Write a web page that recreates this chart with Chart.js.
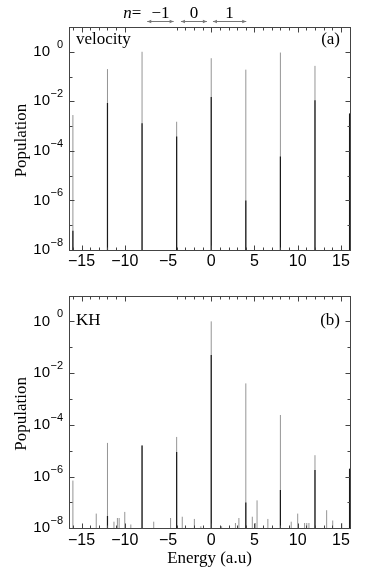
<!DOCTYPE html>
<html><head><meta charset="utf-8">
<script src="https://cdn.jsdelivr.net/npm/chart.js@4.4.1/dist/chart.umd.min.js"></script>
<style>
html,body{margin:0;padding:0;background:#fff;}
#wrap{position:relative;width:374px;height:581px;overflow:hidden;}
.box{position:absolute;left:0;}
</style></head><body>
<div id="wrap">
<div class="box" style="top:0;width:374px;height:280px"><canvas id="c1" width="374" height="280"></canvas></div>
<div class="box" style="top:280px;width:374px;height:301px"><canvas id="c2" width="374" height="301"></canvas></div>
</div>
<script>
// ---------- data ----------
const xTickValues = [-15, -10, -5, 0, 5, 10, 15];
const xTickLabels = ['\u221215', '\u221210', '\u22125', '0', '5', '10', '15'];
const yLabelExponents = [0, -2, -4, -6, -8];

const velocityEnergy = [-16, -12, -8, -4, 0, 4, 8, 12, 16];
const velocityPeak   = [2.8e-3, 0.2, 1.0, 1.5e-3, 0.55, 0.19, 0.93, 0.27, 3.2e-3];
const velocityCore   = [6e-8, 8.5e-3, 1.3e-3, 3.8e-4, 1.5e-2, 1e-6, 5.9e-5, 1.1e-2, 3.2e-3];

const khEnergy = [-16, -12, -8, -4, 0, 4, 8, 12, 16];
const khPeak   = [7e-7, 2e-5, 1.6e-5, 3.4e-5, 1.0, 4e-3, 2.4e-4, 6.7e-6, 2e-6];
const khCore   = [null, 3e-8, 1.6e-5, 9e-6, 0.05, 1e-7, 3e-7, 1.8e-6, 2e-6];

const khSmallEnergy = [-13.3, -11.25, -10.85, -10.65, -10.0, -9.3, -6.65, -4.7, -3.35, -1.95, -1.2, 1.2, 2.8, 3.2, 4.75, 5.1, 5.3, 6.55, 9.25, 10.0, 10.8, 11.05, 11.3, 13.35, 14.05, 15.1];
const khSmallValue  = [3.7e-8, 1.8e-8, 2.5e-8, 2.5e-8, 4.3e-8, 1.4e-8, 1.8e-8, 2.5e-8, 2.8e-8, 2.3e-8, 1.2e-8, 1.2e-8, 1.6e-8, 2.5e-8, 2.8e-8, 1.6e-8, 1.2e-7, 2.3e-8, 1.8e-8, 3.7e-8, 1.6e-8, 1.6e-8, 1.6e-8, 5e-8, 2e-8, 1.6e-8];

const nLabels    = ['\u22121', '0', '1'];
const nArrowFrom = [-7.4, -3.5, 0.2];
const nArrowTo   = [-4.35, -0.5, 4.05];

const X_MIN = -16.45, X_MAX = 16.05, Y_MIN = 1e-8, Y_MAX = 10;

// ---------- helpers ----------
function spikes(E, V) {
  const d = [];
  E.forEach((e, i) => {
    if (V[i] == null) return;
    d.push({x: e, y: Y_MIN}, {x: e, y: V[i]}, {x: e, y: null});
  });
  return d;
}

const SANS = '"Liberation Sans", Arial, sans-serif';
const SERIF = '"Liberation Serif", "Times New Roman", serif';

function arrowHead(ctx, x, y, dir) {
  ctx.beginPath();
  ctx.moveTo(x, y);
  ctx.lineTo(x - dir * 4, y - 1.8);
  ctx.lineTo(x - dir * 4, y + 1.8);
  ctx.closePath();
  ctx.fill();
}

const deco = {
  id: 'deco',
  afterDraw(chart, args, o) {
    const ctx = chart.ctx, a = chart.chartArea, xs = chart.scales.x, ys = chart.scales.y;
    ctx.save();
    const L = Math.round(a.left) + 0.5, R = Math.round(a.right) + 0.5;
    const T = Math.round(a.top) + 0.5, B = Math.round(a.bottom) + 0.5;
    ctx.strokeStyle = '#444';
    ctx.lineWidth = 1;
    ctx.strokeRect(L, T, R - L, B - T);
    ctx.beginPath();
    for (let v = -16; v <= 16; v++) {
      if (v >= -9 && v <= -5) continue;
      const px = Math.round(xs.getPixelForValue(v)) + 0.5;
      if (px <= L || px >= R) continue;
      const len = v % 5 === 0 ? 5 : 3;
      ctx.moveTo(px, B); ctx.lineTo(px, B - len);
      ctx.moveTo(px, T); ctx.lineTo(px, T + len);
    }
    for (let e = -7; e <= 0; e++) {
      const py = Math.round(ys.getPixelForValue(Math.pow(10, e))) + 0.5;
      const len = e % 2 === 0 ? 5 : 3;
      ctx.moveTo(L, py); ctx.lineTo(L + len, py);
      ctx.moveTo(R, py); ctx.lineTo(R - len, py);
    }
    ctx.stroke();

    ctx.fillStyle = '#000';
    // y labels
    yLabelExponents.forEach(e => {
      const py = ys.getPixelForValue(Math.pow(10, e));
      ctx.font = '15px ' + SANS;
      ctx.textAlign = 'right'; ctx.textBaseline = 'middle';
      ctx.fillText('10', a.left - 19, py);
      ctx.font = '11px ' + SANS;
      ctx.fillText(e === 0 ? '0' : '\u2212' + (-e), a.left - 6, py - 7);
    });
    // x labels
    ctx.font = '16px ' + SANS;
    ctx.textAlign = 'center'; ctx.textBaseline = 'middle';
    xTickValues.forEach((v, i) => {
      ctx.fillText(xTickLabels[i], xs.getPixelForValue(v), a.bottom + 12);
    });
    // panel texts
    ctx.font = '17px ' + SERIF;
    ctx.textBaseline = 'alphabetic';
    ctx.textAlign = 'left';
    ctx.fillText(o.name, a.left + 7, a.top + o.nameDy);
    ctx.textAlign = 'right';
    ctx.fillText(o.tag, a.right - 10, a.top + o.nameDy);
    // y title
    ctx.save();
    ctx.translate(22, (a.top + a.bottom) / 2 + 2);
    ctx.rotate(-Math.PI / 2);
    ctx.textAlign = 'center'; ctx.textBaseline = 'middle';
    ctx.fillText('Population', 0, 0);
    ctx.restore();
    if (o.xTitle) {
      ctx.textAlign = 'center'; ctx.textBaseline = 'middle';
      ctx.fillText(o.xTitle, (a.left + a.right) / 2, a.bottom + 30);
    }
    if (o.nAnnot) {
      const yA = 21;
      ctx.textBaseline = 'alphabetic';
      ctx.textAlign = 'right';
      ctx.font = '17px ' + SERIF;
      const x0 = xs.getPixelForValue(nArrowFrom[0]) - 6;
      ctx.fillText('=', x0, 18);
      const wEq = ctx.measureText('=').width;
      ctx.font = 'italic 17px ' + SERIF;
      ctx.fillText('n', x0 - wEq, 18);
      ctx.font = '17px ' + SERIF;
      ctx.textAlign = 'center';
      ctx.strokeStyle = '#777'; ctx.fillStyle = '#777';
      nLabels.forEach((lab, i) => {
        const p1 = xs.getPixelForValue(nArrowFrom[i]), p2 = xs.getPixelForValue(nArrowTo[i]);
        ctx.beginPath(); ctx.moveTo(p1, yA + 0.5); ctx.lineTo(p2, yA + 0.5); ctx.stroke();
        arrowHead(ctx, p1, yA + 0.5, -1);
        arrowHead(ctx, p2, yA + 0.5, 1);
        ctx.fillStyle = '#000';
        ctx.fillText(lab, (p1 + p2) / 2, 18);
        ctx.fillStyle = '#777';
      });
    }
    ctx.restore();
  }
};

function makeChart(id, pad, greyData, blackData, decoOpts) {
  return new Chart(document.getElementById(id), {
    type: 'line',
    data: {
      datasets: [
        {data: blackData, borderColor: '#1a1a1a', borderWidth: 1.2, pointRadius: 0, spanGaps: false, tension: 0},
        {data: greyData, borderColor: '#959595', borderWidth: 1, pointRadius: 0, spanGaps: false, tension: 0}
      ]
    },
    options: {
      responsive: false, animation: false, devicePixelRatio: 1,
      layout: {padding: pad},
      plugins: {legend: {display: false}, tooltip: {enabled: false}, deco: decoOpts},
      scales: {
        x: {type: 'linear', min: X_MIN, max: X_MAX, display: false},
        y: {type: 'logarithmic', min: Y_MIN, max: Y_MAX, display: false}
      }
    },
    plugins: [deco]
  });
}

makeChart('c1', {left: 69, right: 24, top: 27, bottom: 30},
  spikes(velocityEnergy, velocityPeak),
  spikes(velocityEnergy, velocityCore),
  {name: 'velocity', tag: '(a)', nameDy: 17, nAnnot: true});

makeChart('c2', {left: 69, right: 24, top: 15.5, bottom: 52.7},
  spikes(khEnergy, khPeak).concat(spikes(khSmallEnergy, khSmallValue)),
  spikes(khEnergy, khCore),
  {name: 'KH', tag: '(b)', nameDy: 29, xTitle: 'Energy (a.u)'});
</script>
</body></html>
